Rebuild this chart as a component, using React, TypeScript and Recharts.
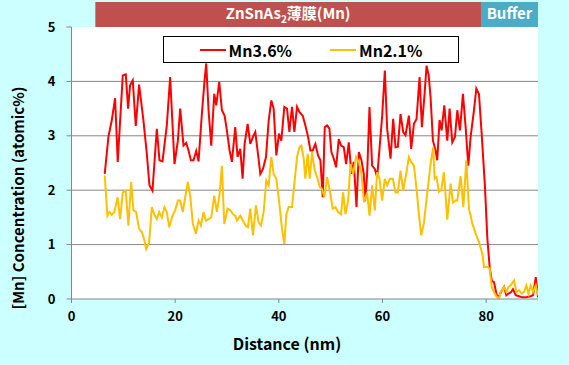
import React from "react";
import { LineChart, Line, XAxis, YAxis, CartesianGrid, ReferenceLine, ReferenceArea, Legend } from "recharts";

// Mn3.6% profile
const mn36Distance = [
  6.41, 7.12, 7.76, 8.41, 8.92, 9.89, 10.47, 10.92, 11.3, 11.82, 12.4, 13.04, 13.88, 14.53, 15.04, 15.62,
  16.46, 16.97, 17.55, 18.39, 19.03, 19.87, 20.52, 20.97, 21.61, 22.13, 22.58, 23.03, 23.54, 24.06, 24.51,
  25.15, 25.67, 25.99, 26.44, 26.96, 27.54, 27.92, 28.5, 29.02, 29.53, 29.98, 30.5, 30.95, 31.59, 32.04,
  32.56, 33.01, 33.4, 33.98, 34.49, 35.01, 35.46, 35.97, 36.43, 36.94, 37.52, 38.04, 38.55, 39.0, 39.52,
  40.03, 40.48, 41.06, 41.58, 42.03, 42.54, 43.0, 43.51, 43.96, 44.61, 45.12, 45.64, 46.09, 46.54, 47.05,
  47.57, 48.02, 48.47, 48.86, 49.31, 49.76, 50.14, 50.6, 51.05, 51.56, 52.01, 52.53, 52.98, 53.49, 54.01,
  54.46, 54.98, 55.43, 55.94, 56.39, 56.65, 57.04, 57.49, 58.0, 58.52, 58.97, 59.42, 59.94, 60.45, 60.9,
  61.55, 62.06, 62.51, 62.96, 63.48, 63.99, 64.44, 65.09, 65.54, 66.06, 66.57, 67.15, 67.6, 68.12, 68.5,
  68.9, 69.28, 69.73, 70.24, 70.56, 71.01, 71.4, 71.92, 72.5, 72.95, 73.46, 73.98, 74.43, 74.94, 75.52,
  76.04, 76.55, 77.0, 77.65, 78.1, 78.61, 79.13, 79.77, 80.21, 80.68, 81.1, 81.51, 82.03, 82.48, 82.8,
  83.45, 83.9, 84.28, 84.73, 85.18, 85.7, 86.34, 86.99, 87.63, 88.08, 88.6, 89.05, 89.57, 89.89, 90.0,
];
const mn36Conc = [
  2.3, 2.98, 3.28, 3.69, 2.52, 4.11, 4.13, 3.5, 3.93, 4.02, 3.18, 3.94, 3.28, 2.67, 2.09, 1.99,
  3.13, 2.55, 2.53, 3.19, 4.08, 2.48, 2.91, 3.5, 2.82, 2.87, 2.73, 2.55, 2.55, 2.72, 2.53,
  3.4, 4.02, 4.33, 3.47, 2.82, 3.77, 3.56, 3.99, 3.47, 3.37, 3.1, 2.73, 2.52, 3.16, 2.61,
  2.76, 2.21, 2.85, 3.22, 2.85, 2.98, 3.07, 2.67, 2.3, 2.39, 2.61, 3.28, 3.65, 3.5, 2.64,
  3.04, 2.91, 3.53, 3.5, 3.07, 3.53, 3.07, 3.53, 3.44, 3.37, 3.19, 2.98, 2.73, 2.73, 2.85,
  2.64, 2.55, 1.87, 3.16, 3.19, 3.13, 2.7, 2.58, 2.42, 2.94, 2.82, 2.79, 2.48, 2.88, 2.3,
  2.52, 1.69, 2.7, 2.55, 2.3, 1.8, 2.3, 3.53, 2.45, 2.39, 2.24, 2.76, 3.37, 4.2, 3.13,
  2.58, 3.31, 2.79, 2.8, 3.4, 3.07, 3.01, 3.37, 2.76, 3.22, 3.31, 4.08, 3.16, 3.77, 4.29,
  4.12, 3.7, 2.91, 2.73, 2.55, 3.29, 3.1, 3.56, 2.91, 3.5, 2.88, 2.98, 3.47, 3.1, 3.77,
  3.16, 2.45, 2.98, 3.47, 3.87, 3.77, 3.04, 2.06, 1.14, 0.58, 0.33, 0.31, 0.07, 0.04, 0.12,
  0.22, 0.07, 0.1, 0.12, 0.18, 0.07, 0.05, 0.03, 0.03, 0.04, 0.05, 0.07, 0.4, 0.15, 0.03,
];

// Mn2.1% profile
const mn21Distance = [
  6.41, 6.92, 7.31, 7.76, 8.27, 8.92, 9.37, 9.89, 10.47, 10.98, 11.5, 11.95, 12.47, 13.04, 13.56, 14.01,
  14.4, 14.98, 15.49, 15.94, 16.46, 16.91, 17.43, 17.94, 18.39, 18.84, 19.48, 20.0, 20.52, 20.97, 21.48,
  21.93, 22.45, 22.9, 23.41, 23.99, 24.51, 24.96, 25.47, 25.93, 26.44, 26.96, 27.54, 28.05, 28.57, 29.02,
  29.47, 30.11, 30.63, 31.14, 31.59, 31.92, 32.56, 33.08, 33.66, 34.04, 34.49, 35.01, 35.59, 36.1, 36.55,
  37.07, 37.58, 38.04, 38.55, 39.0, 39.52, 40.1, 40.61, 41.06, 41.45, 41.9, 42.54, 43.0, 43.51, 44.0,
  44.35, 44.8, 45.12, 45.57, 45.96, 46.41, 46.92, 47.38, 47.89, 48.34, 48.79, 49.31, 49.82, 50.4, 50.92,
  51.43, 52.01, 52.4, 52.85, 53.37, 53.82, 54.33, 54.91, 55.43, 55.94, 56.45, 57.04, 57.49, 58.0, 58.52,
  58.97, 59.42, 59.94, 60.45, 60.9, 61.42, 62.0, 62.51, 62.96, 63.48, 63.99, 64.57, 65.09, 65.54, 66.06,
  66.57, 67.02, 67.47, 67.99, 68.63, 69.28, 69.79, 70.05, 70.43, 70.88, 71.34, 71.85, 72.5, 73.14, 73.59,
  74.11, 74.43, 75.07, 75.59, 76.17, 76.68, 77.33, 77.97, 78.61, 79.26, 79.58, 80.23, 80.68, 81.06, 81.51,
  82.03, 82.48, 82.8, 83.45, 83.9, 84.28, 84.73, 85.38, 85.83, 86.34, 86.86, 87.31, 87.76, 88.15, 88.6,
  89.05, 89.57, 90.0,
];
const mn21Conc = [
  2.27, 1.53, 1.6, 1.55, 1.6, 1.87, 1.47, 1.96, 1.99, 1.35, 2.15, 1.63, 1.6, 1.29, 1.23, 1.1,
  0.92, 1.04, 1.69, 1.56, 1.47, 1.6, 1.5, 1.69, 1.6, 1.32, 1.53, 1.63, 1.81, 1.81, 1.6,
  1.87, 2.15, 1.9, 1.38, 1.2, 1.44, 1.35, 1.6, 1.44, 1.47, 1.5, 1.9, 1.6, 1.93, 2.45,
  1.38, 1.66, 1.63, 1.56, 1.53, 1.44, 1.53, 1.44, 1.34, 1.32, 1.66, 1.17, 1.72, 1.41, 1.35,
  1.6, 2.18, 2.09, 2.61, 2.3, 2.21, 1.75, 1.29, 1.01, 1.56, 1.69, 1.69, 2.12, 2.61, 2.8,
  2.82, 2.58, 2.21, 2.67, 2.21, 2.7, 2.36, 2.24, 2.06, 2.02, 1.87, 2.24, 1.99, 1.66, 1.69,
  1.6, 1.56, 1.96, 1.56, 1.81, 2.48, 2.3, 2.61, 2.52, 2.3, 1.78, 1.95, 1.53, 2.09, 1.63,
  2.33, 2.21, 1.81, 2.21, 2.09, 2.21, 2.21, 1.96, 1.96, 2.36, 1.99, 2.3, 2.61, 2.52, 2.45,
  2.02, 1.56, 1.17, 1.4, 1.94, 2.49, 2.79, 2.21, 2.24, 1.97, 2.0, 2.33, 1.46, 2.12, 1.77,
  1.81, 1.81, 2.26, 1.69, 2.55, 1.66, 1.39, 1.2, 1.05, 0.83, 0.59, 0.59, 0.56, 0.22, 0.13,
  0.04, 0.01, 0.13, 0.22, 0.13, 0.22, 0.25, 0.34, 0.13, 0.16, 0.1, 0.13, 0.25, 0.1, 0.25,
  0.13, 0.25, 0.07,
];

const seriesNames = ["Mn3.6%", "Mn2.1%"];
const xTicks = [0, 20, 40, 60, 80];
const yTicks = [0, 1, 2, 3, 4, 5];
const gridLevels = [1, 2, 3, 4];

// layer bands drawn above the plot
const layerNames = ["film", "Buffer"];
const layerStart = [4.6, 79];
const layerEnd = [79, 90];
const layerColors = ["#c0504d", "#4bacc6"];

const FONT = '"Noto Sans CJK JP", "Noto Sans", sans-serif';
const GRID = "#868686";

const toRows = (xs: number[], ys: number[]) => xs.map((d, i) => ({ d, v: ys[i] }));
const mn36Data = toRows(mn36Distance, mn36Conc);
const mn21Data = toRows(mn21Distance, mn21Conc);

const tickStyle = { fill: "#000", fontSize: 13, fontWeight: 700, fontFamily: FONT };

const BandLabel = ({ viewBox, name }: any) => {
  const cx = viewBox.x + viewBox.width / 2;
  const cy = viewBox.y + viewBox.height / 2;
  return (
    <text x={cx} y={cy + 5} textAnchor="middle" fill="#fff" fontFamily={FONT} fontWeight={700} fontSize={15}>
      {name === "film" ? (
        <>
          ZnSnAs<tspan dy={4} fontSize={10}>2</tspan>
          <tspan dy={-4}>薄膜(Mn)</tspan>
        </>
      ) : (
        name
      )}
    </text>
  );
};

const LegendBox = ({ payload }: any) => {
  const items = seriesNames
    .map((n) => (payload || []).find((p: any) => p.value === n))
    .filter(Boolean);
  return (
    <div
      style={{
        boxSizing: "border-box",
        width: 296,
        height: 27,
        border: "1px solid #000",
        background: "#fff",
        display: "flex",
        alignItems: "center",
        justifyContent: "center",
        gap: 38,
        fontFamily: FONT,
        fontWeight: 700,
        fontSize: 16,
        color: "#000",
      }}
    >
      {items.map((p: any) => (
        <div key={p.value} style={{ display: "flex", alignItems: "center" }}>
          <span style={{ display: "inline-block", width: 26, height: 2, background: p.color, marginRight: 3 }} />
          <span>{p.value}</span>
        </div>
      ))}
    </div>
  );
};

const App = () => (
  <div style={{ width: 569, height: 365, background: "#ccffff", position: "relative" }}>
    <style>{"body{margin:0}"}</style>
    <LineChart width={569} height={365} margin={{ top: 27, right: 31, left: 31, bottom: 36 }}>
      <CartesianGrid horizontal={false} vertical={false} fill="#fff" />
      {gridLevels.map((g) => (
        <ReferenceLine key={g} y={g} stroke={GRID} strokeWidth={1} />
      ))}
      <XAxis
        type="number"
        dataKey="d"
        domain={[0, 90]}
        ticks={xTicks}
        allowDataOverflow
        height={30}
        tick={tickStyle}
        tickSize={4}
        tickMargin={9}
        axisLine={{ stroke: GRID }}
        tickLine={{ stroke: GRID }}
        label={{
          content: () => (
            <text x={287} y={350} textAnchor="middle" fontFamily={FONT} fontWeight={700} fontSize={16} fill="#000">
              Distance (nm)
            </text>
          ),
        }}
      />
      <YAxis
        type="number"
        domain={[0, 5]}
        ticks={yTicks}
        width={40.5}
        tick={tickStyle}
        tickSize={5}
        tickMargin={11}
        axisLine={{ stroke: GRID }}
        tickLine={{ stroke: GRID }}
        label={{
          content: () => (
            <text
              x={24}
              y={198}
              transform="rotate(-90 24 198)"
              textAnchor="middle"
              fontFamily={FONT}
              fontWeight={700}
              fontSize={15}
              fill="#000"
            >
              [Mn] Concentration (atomic%)
            </text>
          ),
        }}
      />
      {layerNames.map((n, i) => (
        <ReferenceArea
          key={n}
          x1={layerStart[i]}
          x2={layerEnd[i]}
          y1={5}
          y2={5.46}
          ifOverflow="visible"
          fill={layerColors[i]}
          fillOpacity={1}
          stroke="none"
          label={{ content: (p: any) => <BandLabel viewBox={p.viewBox} name={n} /> }}
        />
      ))}
      <Line
        data={mn36Data}
        dataKey="v"
        name={seriesNames[0]}
        type="linear"
        stroke="#ff0000"
        strokeWidth={2}
        dot={false}
        isAnimationActive={false}
      />
      <Line
        data={mn21Data}
        dataKey="v"
        name={seriesNames[1]}
        type="linear"
        stroke="#ffc000"
        strokeWidth={2}
        dot={false}
        isAnimationActive={false}
      />
      <Legend
        layout="vertical"
        align="center"
        verticalAlign="middle"
        wrapperStyle={{ position: "absolute", top: 36, left: 163, width: 296, height: 27 }}
        content={<LegendBox />}
      />
    </LineChart>
  </div>
);

export default App;
